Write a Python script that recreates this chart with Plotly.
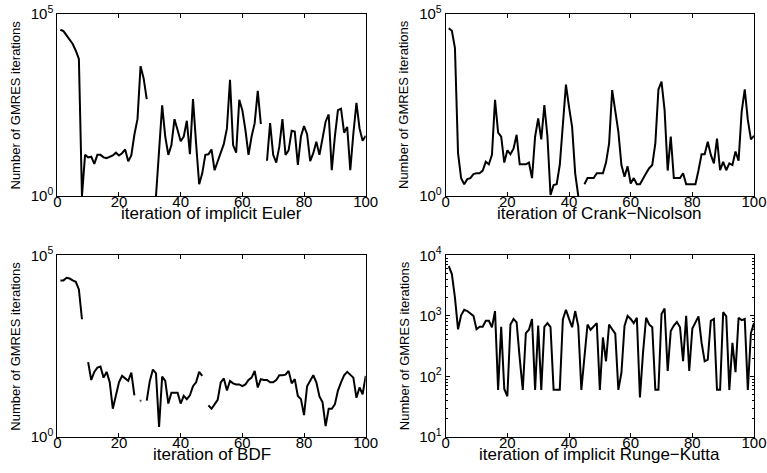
import plotly.graph_objects as go

iterations = list(range(1, 101))

euler = [37000, 34000, 26000, 19000, 15000, 9800, 5800, 1, 13.5, 11.5,
         12, 7.6, 13.5, 13.5, 11.5, 11, 12, 13, 15.5, 13,
         15, 19, 9, 13, 49, 129, 3700, 1700, 457, None,
         None, 1, 18, 309, 43, 13.5, 25, 129, 65, 32,
         43, 117, 14, 457, 28, 2.1, 4.2, 13.5, 14, 19,
         5.1, 9, 15, 27, 72, 1550, 25, 15.5, 437, 229,
         65, 13.5, 43, 100, 776, 95, None, 9.3, 100, 13.5,
         8.3, 23, 129, 13.5, 18, 62, 59, 7.1, 43, 83,
         50, 9.1, 15, 31, 13.5, 38, 110, 174, 5.1, 43,
         229, 251, 55, 79, 5.1, 52, 363, 72, 33, 45]

crank = [40700, 34700, 11500, 15, 3.1, 2.1, 2.9, 3.1, 4, 4.2,
         4.2, 5, 8.7, 7.4, 13.5, 437, 55, 43, 8.3, 18,
         14, 20, 48, 7.4, 7.4, 7.4, 8.3, 3.1, 43, 135,
         36, 316, 43, 1.07, 2, 2.1, 7.1, 79, 1150, 282,
         79, 4.2, 1, None, 2.1, 3.1, 3.1, 3.1, 4.2, 4.2,
         4.2, 8.3, 28, 813, 229, 59, 7.1, 3.4, 6.5, 2.2,
         3.1, 2.1, 2.1, 3.1, 4.2, 5.8, 7.1, 28, 851, 1380,
         229, 5, 43, 3.1, 3.1, 3.1, 4.2, 2.1, 2.1, 2.1,
         2.1, 5.1, 14, 14, 31, 13.5, 7.9, 38, 5.1, 8.7,
         5.1, 7.9, 7.1, 16.6, 9.3, 209, 851, 123, 36, 45]

bdf = [20400, 20400, 24000, 22900, 20400, 18600, 11500, 1740, None, 115,
       37, 62, 81, 87, 43, 62, 32, 6, 15, 32,
       48, 41, 35, 59, 14, None, 10, None, 10, 35,
       72, 56, 1.9, 46, 35, 8.3, 16.6, 16.6, 16.6, 8.3,
       13.5, 11, 14, 25, 32, 62, 48, None, 7.4, 6,
       7.9, 10.5, 32, 41, 19, 35, 30, 28, 28, 25,
       28, 37, 43, 66, 23, 39, 37, 37, 32, 32,
       37, 50, 50, 52, 66, 30, 39, 13.5, 11, 4,
       25, 37, 50, 32, 13, 9.1, 2, 6, 6, 7.9,
       19, 32, 50, 62, 52, 43, 12, 23, 15, 48]

runge_kutta = [6600, 4900, 2000, 600, 1020, 1260, 1200, 1100, 1000, 600,
               660, 660, 830, 830, 650, 1200, 60, 660, 62, 47,
               720, 890, 780, 200, 60, 520, 590, 890, 60, 690,
               60, 660, 760, 650, 60, 60, 60, 870, 1260, 890,
               650, 1200, 680, 60, 220, 720, 590, 680, 760, 60,
               440, 178, 720, 600, 510, 60, 115, 680, 1000, 890,
               760, 930, 45, 245, 930, 720, 650, 60, 60, 1070,
               1320, 123, 560, 690, 790, 650, 178, 1000, 123, 620,
               760, 980, 360, 178, 190, 830, 890, 60, 60, 1150,
               980, 60, 360, 118, 930, 850, 890, 60, 520, 760]

x_titles = ["iteration of implicit Euler", "iteration of Crank\u2212Nicolson",
            "iteration of BDF", "iteration of implicit Runge\u2212Kutta"]
y_title = "Number of GMRES iterations"
x_ticks = [0, 20, 40, 60, 80, 100]
y_ticks_a = [1, 100000]
y_ticktext_a = ["10<sup>0</sup>", "10<sup>5</sup>"]
y_ticks_b = [10, 100, 1000, 10000]
y_ticktext_b = ["10<sup>1</sup>", "10<sup>2</sup>", "10<sup>3</sup>", "10<sup>4</sup>"]

W, H = 767, 473
# pixel boxes of the four axes (left, right, top, bottom)
boxes = [(57.3, 365.7, 14, 196), (445.7, 754, 14, 196),
         (57.3, 365.7, 255.3, 437), (445.7, 754, 255.3, 437)]

FONT = "Liberation Sans, Arial, Helvetica, sans-serif"
fig = go.Figure()
series = [euler, crank, bdf, runge_kutta]


def isolated_sizes(vals):
    out = []
    for i, v in enumerate(vals):
        prev_none = i == 0 or vals[i - 1] is None
        next_none = i == len(vals) - 1 or vals[i + 1] is None
        out.append(3 if (v is not None and prev_none and next_none) else 0)
    return out


for k, vals in enumerate(series):
    sfx = "" if k == 0 else str(k + 1)
    fig.add_trace(go.Scatter(
        x=iterations, y=vals, mode="lines+markers",
        line=dict(color="black", width=2),
        marker=dict(color="black", size=isolated_sizes(vals)),
        connectgaps=False, showlegend=False, hoverinfo="skip",
        xaxis="x" + sfx, yaxis="y" + sfx))

    l, r, t, b = boxes[k]
    xd = [l / W, r / W]
    yd = [1 - b / H, 1 - t / H]
    xa = dict(domain=xd, range=[0, 100], tickvals=x_ticks, ticks="inside",
              ticklen=4, tickcolor="black", showline=True, linecolor="black",
              linewidth=1, mirror="ticks", showgrid=False, zeroline=False,
              tickfont=dict(family=FONT, size=15, color="black"),
              ticklabelstandoff=-8,
              automargin=False, anchor="y" + sfx)
    if k < 3:
        ya = dict(domain=yd, type="log", range=[0, 5], tickvals=y_ticks_a,
                  ticktext=y_ticktext_a)
    else:
        minor_vals = [m * 10 ** d for d in range(1, 4) for m in range(2, 10)]
        ya = dict(domain=yd, type="log", range=[1, 4], tickvals=y_ticks_b,
                  ticktext=y_ticktext_b,
                  minor=dict(tickvals=minor_vals, ticks="inside", ticklen=2,
                             tickcolor="black", showgrid=False))
    ya.update(ticks="inside", ticklen=4, tickcolor="black", showline=True,
              linecolor="black", linewidth=1, mirror="ticks", showgrid=False,
              zeroline=False, tickfont=dict(family=FONT, size=15, color="black"),
              automargin=False, anchor="x" + sfx)
    fig.update_layout(**{"xaxis" + sfx: xa, "yaxis" + sfx: ya})

    fig.add_annotation(text=x_titles[k], xref="paper", yref="paper",
                       x=(l + r) / 2 / W, y=1 - (b + 17) / H,
                       xanchor="center", yanchor="middle", showarrow=False,
                       font=dict(family=FONT, size=17, color="black"))
    ylab_x = 15.5 if k % 2 == 0 else 404
    fig.add_annotation(text=y_title, xref="paper", yref="paper",
                       x=ylab_x / W, y=1 - (t + b) / 2 / H, textangle=-90,
                       xanchor="center", yanchor="middle", showarrow=False,
                       font=dict(family=FONT, size=13, color="black"))

fig.update_layout(width=W, height=H, margin=dict(l=0, r=0, t=0, b=0, pad=0),
                  autosize=False, hovermode=False,
                  paper_bgcolor="white", plot_bgcolor="white")
fig.write_html("out.html", config={"displayModeBar": False},
               post_script="document.body.style.margin='0';")
